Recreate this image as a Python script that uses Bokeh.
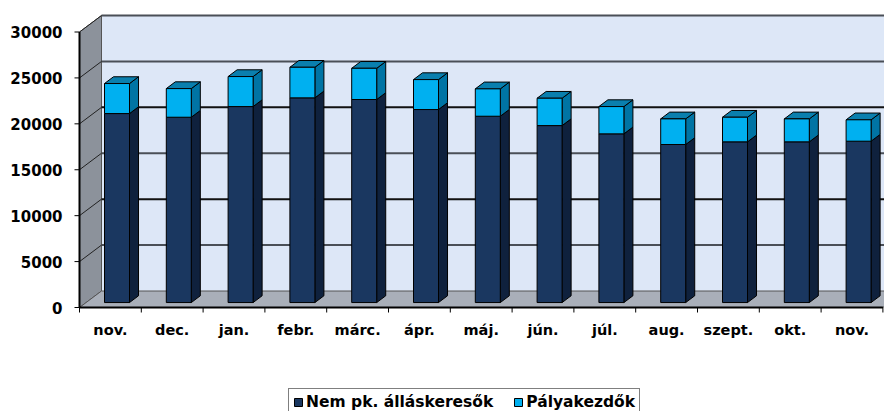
import math
from bokeh.plotting import figure
from bokeh.models import Range1d, Legend, LegendItem, ColumnDataSource
from bokeh.core.properties import value
from bokeh.embed import file_html
from bokeh.resources import INLINE

# ---- data ----
months = ["nov.", "dec.", "jan.", "febr.", "márc.", "ápr.", "máj.", "jún.",
          "júl.", "aug.", "szept.", "okt.", "nov."]
nem_pk = [20580, 20180, 21340, 22290, 22110, 21020, 20290, 19270, 18370,
          17210, 17500, 17500, 17570]
palyakezdok = [3270, 3120, 3270, 3330, 3400, 3260, 2980, 2980, 2970,
               2790, 2680, 2500, 2330]
y_ticks = [0, 5000, 10000, 15000, 20000, 25000, 30000]
series_names = ["Nem pk. álláskeresők", "Pályakezdők"]

# ---- geometry / style ----
W, H = 884, 411
AX_X, AX_Y = 79, 307      # pixel position of the front axes origin
PX_CAT = 61.8
PX_Y = 275.5 / 30000.0
DX = 22 / PX_CAT          # depth offset (x, data units)
DY = 16.5 / PX_Y          # depth offset (y, data units)
F = 0.30                  # bar front depth fraction
D = 0.41                  # bar depth fraction
BW = 25 / PX_CAT          # bar width

FONT = "DejaVu Sans"
C_DARK, C_DARK_SIDE = "#1a3760", "#0f213d"
C_LIGHT, C_LIGHT_SIDE, C_TOP = "#00b0f0", "#0074a4", "#0a7fae"

p = figure(width=W, height=H, output_backend="svg", toolbar_location=None,
           x_range=Range1d(-AX_X / PX_CAT, (W - AX_X) / PX_CAT),
           y_range=Range1d(-(H - AX_Y) / PX_Y, AX_Y / PX_Y),
           x_axis_location=None, y_axis_location=None,
           min_border=0)
p.outline_line_color = None
p.xgrid.visible = False
p.ygrid.visible = False

n = len(months)
ymax = y_ticks[-1]
XR = n

# walls & floor
p.quad(left=[DX], right=[XR + DX], bottom=[DY], top=[ymax + DY],
       fill_color="#dde7f7", line_color=None)
p.patch([0, DX, DX, 0], [0, DY, ymax + DY, ymax], fill_color="#8c929b",
        line_color="#555555", line_width=1)
p.patch([0, XR, XR + DX, DX], [0, 0, DY, DY],
        fill_color="#a9afb9", line_color="#555555", line_width=1)

# gridlines (back wall + left wall)
gv = y_ticks[1:]
cols = ["#111111" if (i % 2 == 1) else "#4a4f57" for i in range(len(gv))]
cols[-1] = "#4a4f57"
p.segment(x0=[DX] * len(gv), y0=[v + DY for v in gv],
          x1=[XR + DX] * len(gv), y1=[v + DY for v in gv],
          line_color=cols, line_width=2)
p.segment(x0=[0] * len(gv), y0=gv, x1=[DX] * len(gv),
          y1=[v + DY for v in gv], line_color="#222222", line_width=1)

# bars
xl = [i + 0.5 - BW / 2 + F * DX for i in range(n)]
xr = [x + BW for x in xl]
yb = F * DY
dtop = [yb + v for v in nem_pk]
ttop = [yb + a + b for a, b in zip(nem_pk, palyakezdok)]
ox, oy = D * DX, D * DY

src = ColumnDataSource(dict(xl=xl, xr=xr, yb=[yb] * n, dtop=dtop, ttop=ttop))

side_d_x = [[r, r + ox, r + ox, r] for r in xr]
side_d_y = [[yb, yb + oy, t + oy, t] for t in dtop]
side_l_y = [[a, a + oy, b + oy, b] for a, b in zip(dtop, ttop)]
top_x = [[l, r, r + ox, l + ox] for l, r in zip(xl, xr)]
top_y = [[t, t, t + oy, t + oy] for t in ttop]

p.patches(side_d_x, side_d_y, fill_color=C_DARK_SIDE, line_color="black", line_width=1)
p.patches(side_d_x, side_l_y, fill_color=C_LIGHT_SIDE, line_color="black", line_width=1)
p.patches(top_x, top_y, fill_color=C_TOP, line_color="black", line_width=1)
r_dark = p.quad(left="xl", right="xr", bottom="yb", top="dtop", source=src,
                fill_color=C_DARK, line_color="black", line_width=1)
r_light = p.quad(left="xl", right="xr", bottom="dtop", top="ttop", source=src,
                 fill_color=C_LIGHT, line_color="black", line_width=1)

# ---- front axes (drawn through the plot's scales) ----
# y axis
p.segment(x0=[0], y0=[y_ticks[0]], x1=[0], y1=[ymax], line_color="black", line_width=2)
p.ray(x=[0] * len(y_ticks), y=y_ticks, length=5, length_units="screen",
      angle=math.pi, line_color="black", line_width=1)
p.text(x=[0] * len(y_ticks), y=y_ticks, text=[str(v) for v in y_ticks],
       x_offset=-17, text_align="right", text_baseline="middle",
       text_font=value(FONT), text_font_style="bold",
       text_font_size=value("15px"), text_color="black")
# x axis
p.segment(x0=[0], y0=[0], x1=[n], y1=[0], line_color="black", line_width=2)
p.ray(x=list(range(n + 1)), y=[0] * (n + 1), length=5, length_units="screen",
      angle=-math.pi / 2, line_color="black", line_width=1)
p.text(x=[i + 0.5 for i in range(n)], y=[0] * n, text=months,
       y_offset=14, text_align="center", text_baseline="top",
       text_font=value(FONT), text_font_style="bold",
       text_font_size=value("14.5px"), text_color="black")

legend = Legend(items=[LegendItem(label=series_names[0], renderers=[r_dark]),
                       LegendItem(label=series_names[1], renderers=[r_light])],
                orientation="horizontal", location=(288, -5),
                glyph_width=10, glyph_height=10, label_standoff=3, spacing=20,
                padding=4, margin=0, border_line_color="black",
                border_line_width=1, label_text_font=FONT,
                label_text_font_style="bold", label_text_font_size="15.5px",
                label_text_color="black",
                label_height=16, background_fill_alpha=1)
p.add_layout(legend, "center")

open("out.html", "w").write(file_html(p, INLINE))
